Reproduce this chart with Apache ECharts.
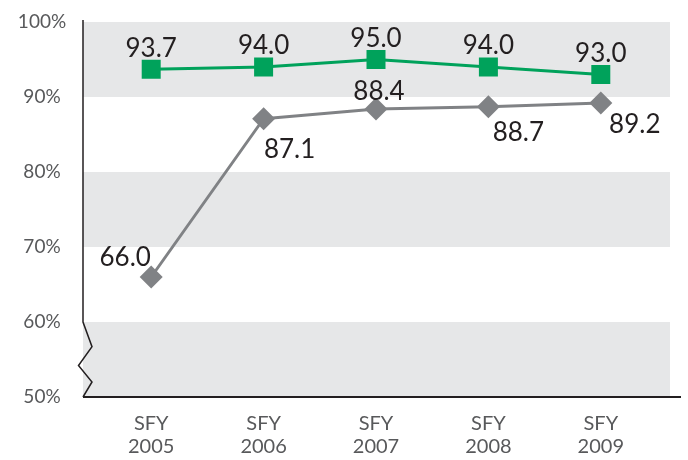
<!DOCTYPE html>
<html>
<head>
<meta charset="utf-8">
<script src="https://cdn.jsdelivr.net/npm/echarts@6/dist/echarts.min.js"></script>
<style>
  html, body { margin: 0; padding: 0; background: #fff; }
  #main { width: 688px; height: 460px; }
</style>
</head>
<body>
<div id="main"></div>
<script>
// 数据
var years = ['2005', '2006', '2007', '2008', '2009'];
var greenValues = [93.7, 94.0, 95.0, 94.0, 93.0];
var greyValues = [66.0, 87.1, 88.4, 88.7, 89.2];
var yTicks = [50, 60, 70, 80, 90, 100];

// 灰线标签位置偏移
var greyLabelOffsets = [[-26, -19], [26, 31], [3, -17], [30, 26], [34, 22]];

var FONT = 'Lato, "Liberation Sans", sans-serif';
var GRID_LEFT = 83, GRID_RIGHT = 18, GRID_TOP = 22, GRID_BOTTOM = 63;
var yMin = yTicks[0], yMax = yTicks[yTicks.length - 1], yStep = yTicks[1] - yTicks[0];

var chart = echarts.init(document.getElementById('main'), null, { renderer: 'canvas' });

var labelStyle = {
  show: true,
  position: 'inside',
  fontFamily: FONT,
  fontWeight: 400,
  fontSize: 26,
  color: '#231f20',
  formatter: function (p) { return Number(p.value).toFixed(1); }
};

var option = {
  animation: false,
  grid: [
    // 背景：灰白条带 + y轴刻度
    { left: GRID_LEFT, right: GRID_RIGHT, top: GRID_TOP, bottom: GRID_BOTTOM },
    // 数据
    { left: 95, right: 31, top: GRID_TOP, bottom: GRID_BOTTOM }
  ],
  xAxis: [
    { gridIndex: 0, type: 'value', min: 0, max: 1, show: false },
    {
      gridIndex: 1,
      type: 'category',
      data: years,
      boundaryGap: true,
      axisLine: { show: false },
      axisTick: { show: false },
      axisLabel: {
        margin: 15,
        fontFamily: FONT,
        fontSize: 20,
        lineHeight: 23,
        color: '#58595b',
        formatter: function (v) { return 'SFY\n' + v; }
      }
    }
  ],
  yAxis: [
    {
      gridIndex: 0,
      type: 'value',
      min: yMin,
      max: yMax,
      interval: yStep,
      axisLine: { show: false },
      axisTick: { show: false },
      splitLine: { show: false },
      splitArea: { show: true, areaStyle: { color: ['#e6e7e8', '#ffffff'] } },
      axisLabel: {
        margin: 41,
        align: 'center',
        padding: [0, 0, 9, 0],
        fontFamily: FONT,
        fontSize: 19,
        color: '#58595b',
        formatter: '{value}%'
      }
    },
    { gridIndex: 1, type: 'value', min: yMin, max: yMax, show: false }
  ],
  series: [
    {
      name: 'grey',
      type: 'line',
      xAxisIndex: 1,
      yAxisIndex: 1,
      data: greyValues.map(function (v, i) {
        return { value: v, label: { offset: greyLabelOffsets[i] } };
      }),
      symbol: 'diamond',
      symbolSize: 23,
      lineStyle: { color: '#808285', width: 3 },
      itemStyle: { color: '#808285' },
      label: labelStyle
    },
    {
      name: 'green',
      type: 'line',
      xAxisIndex: 1,
      yAxisIndex: 1,
      data: greenValues,
      symbol: 'rect',
      symbolSize: 19,
      lineStyle: { color: '#00a25b', width: 3 },
      itemStyle: { color: '#00a25b' },
      label: Object.assign({}, labelStyle, { offset: [0, -21] })
    }
  ]
};
chart.setOption(option);

// 坐标轴线（y轴带折断符号）
var yTop = chart.convertToPixel({ yAxisIndex: 0 }, yMax) - 2;
var yBreak = chart.convertToPixel({ yAxisIndex: 0 }, yTicks[1]);
var yBottom = chart.convertToPixel({ yAxisIndex: 0 }, yMin);
var seg = yBottom - yBreak;
var x0 = GRID_LEFT;
var plotRight = 688 - GRID_RIGHT;

chart.setOption({
  graphic: [
    {
      type: 'polyline',
      shape: {
        points: [
          [x0, yTop], [x0, yBreak],
          [x0 + 9, yBreak + seg * 0.33],
          [x0 - 4.5, yBreak + seg * 0.58],
          [x0 + 9, yBreak + seg * 0.8],
          [x0, yBottom]
        ]
      },
      style: { stroke: '#231f20', lineWidth: 1.5, fill: null },
      z: 10
    },
    {
      type: 'line',
      shape: { x1: x0, y1: yBottom, x2: plotRight + 11, y2: yBottom },
      style: { stroke: '#231f20', lineWidth: 2 },
      z: 10
    }
  ]
});
</script>
</body>
</html>
